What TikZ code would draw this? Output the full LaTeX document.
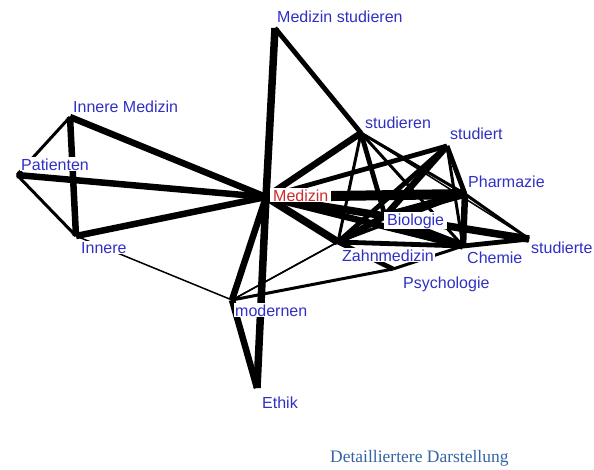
\documentclass[tikz,border=0pt]{standalone}
\usepackage{fontspec}
\setmainfont{Liberation Sans}
\newfontfamily\linkfont{Liberation Serif}
\definecolor{termblue}{RGB}{48,48,196}
\definecolor{hubred}{RGB}{204,44,44}
\definecolor{linkblue}{RGB}{52,100,166}
\tikzset{
  term/.style={
    fill=white,
    text=termblue,
    anchor=base west,
    inner sep=1pt,
    font=\fontsize{16}{18}\selectfont
  },
  hub/.style={term,text=hubred},
  thin/.style={draw,line width=1.5pt},
  light/.style={draw,line width=3pt},
  mid/.style={draw,line width=4.8pt},
  heavy/.style={draw,line width=6.5pt},
  heavier/.style={draw,line width=7.5pt},
  huge/.style={draw,line width=10pt}
}

\begin{document}
\begin{tikzpicture}[x=1pt,y=-1pt]
  \useasboundingbox (0,0) rectangle (594,469);
  % points where the lines meet
  \coordinate (med)    at (266,197);
  \coordinate (medstd) at (275,28);
  \coordinate (inmed)  at (70,117);
  \coordinate (pat)    at (17,175);
  \coordinate (inn)    at (76,236);
  \coordinate (std)    at (361,133);
  \coordinate (stdt)   at (447,146);
  \coordinate (pharm)  at (465,194);
  \coordinate (bio)    at (385,216);
  \coordinate (stdte)  at (529,239);
  \coordinate (zahn)   at (338,242);
  \coordinate (chem)   at (463,246);
  \coordinate (psych)  at (393,269);
  \coordinate (mod)    at (232,300);
  \coordinate (eth)    at (257,388);

  % connections, by weight
  \foreach \a/\b in {inn/mod, mod/zahn, mod/bio, std/stdte}
    \draw[thin] (\a) -- (\b);
  \foreach \a/\b in {pat/inn, mod/psych, pharm/stdte, inmed/pat,
                     std/zahn, std/pharm, std/chem, stdt/chem, pharm/zahn, chem/psych}
    \draw[light] (\a) -- (\b);
  \foreach \a/\b in {med/stdte, med/stdt, std/bio, stdt/zahn, stdt/pharm,
                     zahn/chem, zahn/psych, chem/stdte, medstd/std}
    \draw[mid] (\a) -- (\b);
  \foreach \a/\b in {pat/med, inn/med, med/mod, mod/eth, med/std, med/chem,
                     stdt/bio, pharm/chem, bio/zahn, inmed/med, inmed/inn}
    \draw[heavy] (\a) -- (\b);
  \foreach \a/\b in {medstd/med, med/eth, med/bio, med/zahn, pharm/bio, bio/chem, bio/stdte}
    \draw[heavier] (\a) -- (\b);
  \draw[huge] (med) -- (pharm);

  % labels
  \node[term] (l-medstd) at (276,22)  {Medizin studieren};
  \node[term] (l-inmed)  at (72,112)  {Innere Medizin};
  \node[term] (l-pat)    at (20,170)  {Patienten};
  \node[term] (l-inn)    at (80,253)  {Innere};
  \node[hub,inner xsep=3pt] (l-med) at (270,201) {Medizin};
  \node[term] (l-std)    at (364,128) {studieren};
  \node[term] (l-stdt)   at (449,139) {studiert};
  \node[term] (l-pharm)  at (467,187) {Pharmazie};
  \node[term,inner xsep=3pt] (l-bio) at (384,225) {Biologie};
  \node[term] (l-stdte)  at (530,253) {studierte};
  \node[term] (l-zahn)   at (341,261) {Zahnmedizin};
  \node[term] (l-chem)   at (466,263) {Chemie};
  \node[term] (l-psych)  at (402,288) {Psychologie};
  \node[term] (l-mod)    at (234,316) {modernen};
  \node[term] (l-eth)    at (261,408) {Ethik};
  \node[term,text=linkblue,font=\linkfont\fontsize{17.5}{20}\selectfont]
    (more) at (329,462) {Detailliertere Darstellung};
\end{tikzpicture}
\end{document}
